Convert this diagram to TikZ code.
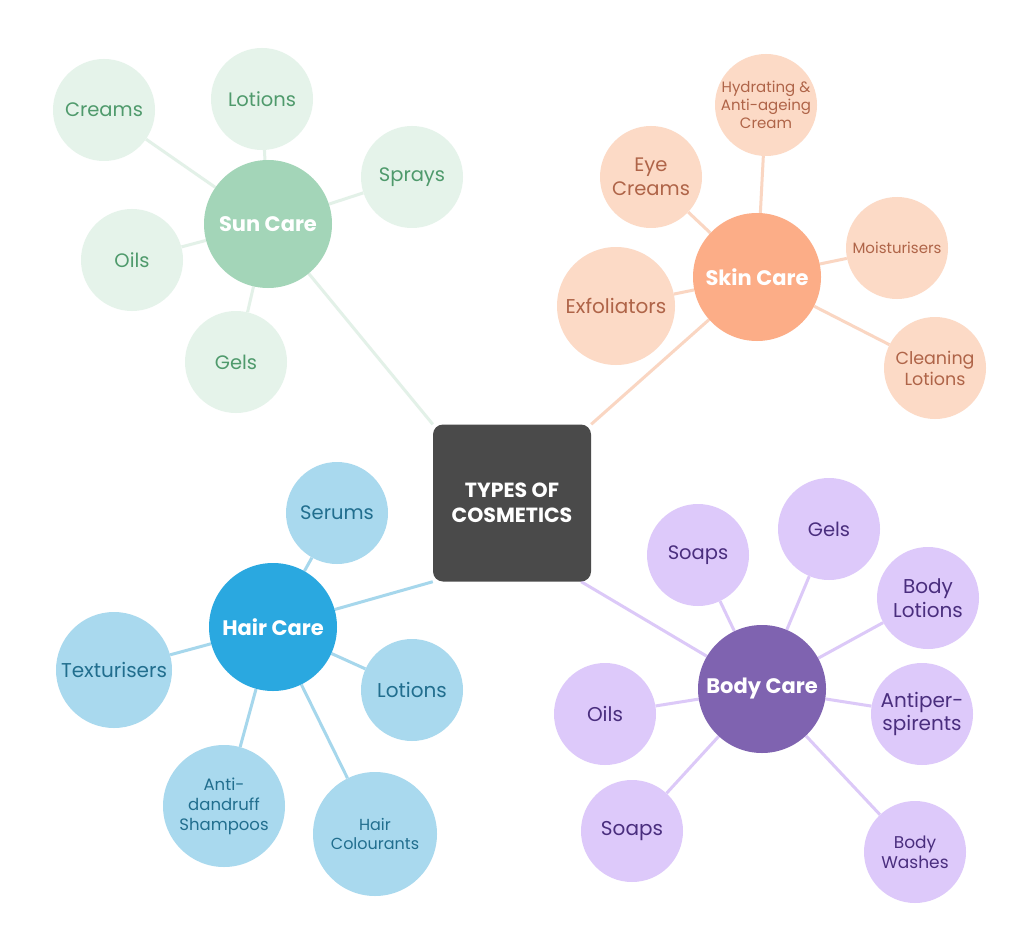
\documentclass[tikz,border=0pt]{standalone}
\usepackage{fontspec}
\setmainfont{Poppins}
\usepackage{tikz}
\usetikzlibrary{backgrounds}
\def\fsz#1#2{\fontsize{#1}{#2}\selectfont}

\definecolor{hubgrey}{HTML}{4A4A4A}
\definecolor{sunmain}{HTML}{A3D5B8}
\definecolor{sunlight}{HTML}{E5F3EA}
\definecolor{suntext}{HTML}{4F9A6C}
\definecolor{sunline}{HTML}{E3F1E8}
\definecolor{skinmain}{HTML}{FCAD87}
\definecolor{skinlight}{HTML}{FCDAC6}
\definecolor{skintext}{HTML}{AF6448}
\definecolor{skinline}{HTML}{FAD6C2}
\definecolor{hairmain}{HTML}{2AA8E0}
\definecolor{hairlight}{HTML}{A9D9EE}
\definecolor{hairtext}{HTML}{216E8E}
\definecolor{hairline}{HTML}{A6D7EC}
\definecolor{bodymain}{HTML}{7F63B0}
\definecolor{bodylight}{HTML}{DDC9FA}
\definecolor{bodytext}{HTML}{4A2E7E}
\definecolor{bodyline}{HTML}{DCC9F8}

\tikzset{
	hub/.style={rectangle, rounded corners=10pt, fill=hubgrey, minimum width=158pt, minimum height=157pt, text=white, font=\bfseries\fsz{20.5}{25}, align=center},
	cat/.style={circle, minimum size=128pt, inner sep=0pt, text=white, font=\bfseries\fsz{21}{25}},
	leaf/.style={circle, minimum size=102pt, inner sep=0pt, align=center, font=\fsz{19.5}{24}},
	link/.style={line width=3pt},
	suncat/.style={cat, fill=sunmain},
	sunleaf/.style={leaf, fill=sunlight, text=suntext},
	sunlink/.style={link, draw=sunline},
	skincat/.style={cat, fill=skinmain},
	skinleaf/.style={leaf, fill=skinlight, text=skintext},
	skinlink/.style={link, draw=skinline},
	haircat/.style={cat, fill=hairmain},
	hairleaf/.style={leaf, fill=hairlight, text=hairtext},
	hairlink/.style={link, draw=hairline},
	bodycat/.style={cat, fill=bodymain},
	bodyleaf/.style={leaf, fill=bodylight, text=bodytext},
	bodylink/.style={link, draw=bodyline},
}

\begin{document}
\begin{tikzpicture}[x=1pt, y=-1pt]
			%%%%% START %%%%%
			\useasboundingbox (0, 0) rectangle (1024, 941);
			
			\node[hub] (cosmetics) at (512, 503) {TYPES OF\\COSMETICS};
			
			% sun care
			\node[suncat] (sun) at (268, 224) {Sun Care};
			\node[sunleaf] (suncreams) at (104, 110) {Creams};
			\node[sunleaf] (sunlotions) at (262, 99) {Lotions};
			\node[sunleaf] (sunsprays) at (412, 177) {Sprays};
			\node[sunleaf] (sunoils) at (132, 260) {Oils};
			\node[sunleaf] (sungels) at (236, 362) {Gels};
			
			% skin care
			\node[skincat] (skin) at (757, 277) {Skin Care};
			\node[skinleaf, font=\fsz{15}{18}] (skinhydrating) at (766, 105) {Hydrating \&\\Anti-ageing\\Cream};
			\node[skinleaf] (skineye) at (651, 177) {Eye\\Creams};
			\node[skinleaf, font=\fsz{15}{18}] (skinmoist) at (897, 248) {Moisturisers};
			\node[skinleaf, minimum size=118pt, font=\fsz{20}{24}] (skinexfol) at (616, 306) {Exfoliators};
			\node[skinleaf, font=\fsz{17.5}{21}] (skinclean) at (935, 368) {Cleaning\\Lotions};
			
			% hair care
			\node[haircat] (hair) at (273, 627) {Hair Care};
			\node[hairleaf] (hairserums) at (337, 513) {Serums};
			\node[hairleaf, minimum size=116pt, font=\fsz{20}{24}] (hairtext) at (114, 670) {Texturisers};
			\node[hairleaf, font=\fsz{20}{24}] (hairlotions) at (412, 690) {Lotions};
			\node[hairleaf, minimum size=122pt, font=\fsz{16.5}{20}] (hairanti) at (224, 806) {Anti-\\dandruff\\Shampoos};
			\node[hairleaf, minimum size=124pt, font=\fsz{16}{19}] (haircolour) at (375, 834) {Hair\\Colourants};
			
			% body care
			\node[bodycat] (body) at (762, 689) {Body Care};
			\node[bodyleaf] (bodysoapsa) at (698, 555) {Soaps};
			\node[bodyleaf] (bodygels) at (829, 529) {Gels};
			\node[bodyleaf, font=\fsz{20}{24}] (bodylotions) at (928, 598) {Body\\Lotions};
			\node[bodyleaf, font=\fsz{20}{23}] (bodyanti) at (922, 714) {Antiper-\\spirents};
			\node[bodyleaf, font=\fsz{17}{20}] (bodywashes) at (915, 852) {Body\\Washes};
			\node[bodyleaf, font=\fsz{20}{24}] (bodyoils) at (605, 714) {Oils};
			\node[bodyleaf, font=\fsz{20}{24}] (bodysoapsb) at (632, 831) {Soaps};
			
			% connectors
			\begin{scope}[on background layer]
			\fill[white] (0, 0) rectangle (1024, 941);
			\draw[sunlink] (sun) -- (cosmetics.north west);
			\draw[sunlink] (sun) -- (suncreams);
			\draw[sunlink] (sun) -- (sunlotions);
			\draw[sunlink] (sun) -- (sunsprays);
			\draw[sunlink] (sun) -- (sunoils);
			\draw[sunlink] (sun) -- (sungels);
			
			\draw[skinlink] (skin) -- (cosmetics.north east);
			\draw[skinlink] (skin) -- (skinhydrating);
			\draw[skinlink] (skin) -- (skineye);
			\draw[skinlink] (skin) -- (skinmoist);
			\draw[skinlink] (skin) -- (skinexfol);
			\draw[skinlink] (skin) -- (skinclean);
			
			\draw[hairlink] (hair) -- (cosmetics.south west);
			\draw[hairlink] (hair) -- (hairserums);
			\draw[hairlink] (hair) -- (hairtext);
			\draw[hairlink] (hair) -- (hairlotions);
			\draw[hairlink] (hair) -- (hairanti);
			\draw[hairlink] (hair) -- (haircolour);
			
			\draw[bodylink] (body) -- ([xshift=-10pt]cosmetics.south east);
			\draw[bodylink] (body) -- (bodysoapsa);
			\draw[bodylink] (body) -- (bodygels);
			\draw[bodylink] (body) -- (bodylotions);
			\draw[bodylink] (body) -- (bodyanti);
			\draw[bodylink] (body) -- (bodywashes);
			\draw[bodylink] (body) -- (bodyoils);
			\draw[bodylink] (body) -- (bodysoapsb);
			\end{scope}
			
			%%%%% END %%%%%
\end{tikzpicture}
\end{document}
